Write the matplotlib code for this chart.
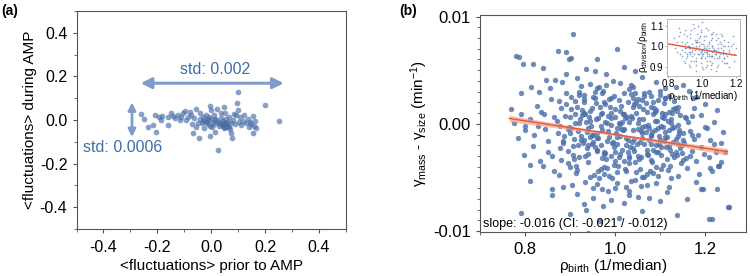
import numpy as np
import matplotlib.pyplot as plt
from matplotlib.ticker import MultipleLocator

plt.rcParams['font.family'] = ['Liberation Sans', 'DejaVu Sans']
plt.rcParams['mathtext.fontset'] = 'custom'
plt.rcParams['mathtext.rm'] = 'Liberation Sans'
plt.rcParams['mathtext.it'] = 'Liberation Sans:italic'

# panel (a): mean fluctuations prior to / during AMP
xa = [-0.259, -0.251, -0.235, -0.216, -0.207, -0.204, -0.194, -0.181, -0.188, -0.162,
      -0.162, -0.148, -0.142, -0.136, -0.123, -0.117, -0.111, -0.105, -0.098, -0.093,
      -0.086, -0.080, -0.074, -0.070, -0.068, -0.062, -0.058, -0.056, -0.046, -0.043,
      -0.040, -0.035, -0.031, -0.027, -0.021, -0.019, -0.016, -0.012, -0.009, -0.006,
      -0.004, 0.000, 0.001, 0.004, 0.006, 0.010, 0.012, 0.016, 0.019, 0.022,
      0.025, 0.027, 0.031, 0.035, 0.037, 0.041, 0.043, 0.046, 0.049, 0.052,
      0.053, 0.056, 0.058, 0.062, 0.065, 0.068, 0.072, 0.075, 0.078, 0.080,
      0.084, 0.088, 0.093, 0.095, 0.099, 0.101, 0.105, 0.107, 0.111, 0.117,
      0.123, 0.130, 0.136, 0.140, 0.144, 0.149, 0.154, 0.157, 0.160, 0.164,
      0.167, 0.201, 0.253, 0.045, 0.050, 0.055, 0.060, 0.040, 0.048, 0.057,
      -0.010, -0.020, -0.005, 0.015, -0.030, -0.050, 0.030, 0.070]
ya = [0.029, 0.006, -0.034, -0.024, 0.021, -0.057, 0.015, 0.018, 0.000, -0.024,
      0.015, 0.031, 0.018, 0.008, 0.023, 0.000, 0.012, 0.031, 0.043, 0.000,
      0.015, 0.038, 0.023, -0.018, -0.061, 0.008, 0.050, -0.031, -0.084, 0.003,
      0.031, -0.015, 0.015, -0.035, 0.000, 0.023, -0.008, -0.018, 0.012, 0.064,
      -0.073, 0.046, 0.003, -0.031, -0.008, 0.023, -0.018, -0.054, 0.000, 0.050,
      -0.138, -0.008, -0.028, 0.008, 0.031, -0.018, -0.003, -0.038, 0.058, -0.015,
      0.034, 0.003, -0.023, -0.008, -0.031, 0.012, -0.012, -0.061, -0.080, 0.000,
      0.028, -0.018, 0.023, 0.080, 0.130, 0.046, -0.008, 0.015, -0.023, -0.003,
      0.023, -0.015, 0.003, -0.031, -0.008, -0.018, 0.018, -0.061, -0.028, -0.003,
      -0.035, 0.067, -0.003, -0.025, -0.030, -0.020, -0.027, -0.022, -0.012, -0.033,
      0.005, -0.010, -0.025, 0.005, -0.005, -0.012, -0.015, -0.040]

# panel (b): growth rate difference vs birth density (y in 1e-3 / min)
xb = [0.903, 0.917, 0.931, 0.948, 0.962, 0.975, 0.989, 1.004, 1.018, 1.031, 1.046, 1.061, 1.074, 1.088, 1.103, 1.117, 1.129, 1.142, 0.895, 0.926,
      0.941, 0.957, 0.969, 0.983, 0.997, 1.011, 1.026, 1.039, 1.053, 1.068, 1.081, 1.095, 1.109, 1.124, 1.137, 1.151, 0.909, 0.935, 0.952, 0.978,
      0.992, 1.007, 1.021, 1.035, 1.049, 1.063, 1.078, 1.091, 1.106, 1.119, 1.133, 1.146, 0.888, 0.914, 0.928, 0.944, 0.959, 0.973, 0.986, 1.002,
      1.016, 1.029, 1.043, 1.057, 1.071, 1.085, 1.099, 1.112, 1.126, 1.140, 1.155, 0.898, 0.921, 0.938, 0.954, 0.966, 0.981, 0.995, 1.009, 1.023,
      1.037, 1.051, 1.065, 1.079, 1.093, 1.107, 1.121, 1.135, 1.148, 0.906, 0.924, 0.943, 0.961, 0.977, 0.993, 1.008, 1.024, 1.041, 1.056, 1.072,
      1.087, 1.102, 1.116, 1.131, 1.145, 0.884, 0.912, 0.933, 0.950, 0.968, 0.984, 1.000, 1.014, 1.033, 1.047, 1.062, 1.076, 1.092, 1.108, 1.123,
      0.870, 0.877, 0.892, 0.900, 0.919, 0.947, 0.964, 0.987, 1.012, 1.036, 1.058, 1.083, 1.104, 1.127, 1.153, 1.162, 1.170, 1.158, 1.167, 1.176,
      0.768, 0.776, 0.785, 0.792, 0.801, 0.810, 0.818, 0.826, 0.834, 0.842, 0.850, 0.858, 0.864, 0.873, 0.880, 0.797, 0.813, 0.829, 0.846, 0.861,
      1.184, 1.190, 1.198, 1.205, 1.212, 1.219, 1.227, 1.235, 1.244, 1.252, 1.181, 1.195, 1.208, 1.221, 1.174, 1.187, 1.200, 1.216, 1.229, 1.165,
      0.781, 0.787, 0.796, 0.818, 0.840, 0.866, 0.873, 0.892, 0.897, 0.902, 0.906, 0.959, 1.004, 0.935, 0.980, 1.020, 1.060, 1.090, 1.120, 1.150,
      0.855, 0.882, 0.915, 0.945, 0.970, 0.995, 1.030, 1.045, 1.075, 1.100, 1.135, 1.180, 0.925, 0.955, 1.010, 1.065, 1.110, 0.830, 0.890, 1.040,
      0.941, 0.967, 0.900, 1.253, 1.208, 1.138, 0.811, 0.792, 1.231, 1.227, 1.190, 1.101, 1.060, 1.008, 0.930, 0.974, 1.019, 0.860, 0.885, 1.160,
      0.915, 0.950, 0.985, 1.030, 1.070, 1.120, 0.875, 0.840, 0.960, 1.000, 1.045, 1.090, 1.140, 0.905, 0.990, 1.050, 1.115, 0.935, 1.025, 1.075,
      0.900, 0.915, 0.930, 0.945, 0.960, 0.975, 0.990, 1.005, 1.020, 1.035, 1.050, 1.065, 1.080, 1.095, 1.110, 1.125, 1.140, 0.908, 0.938, 0.968,
      0.998, 1.028, 1.058, 1.088, 1.118, 1.148, 0.922, 0.952, 0.982, 1.012, 1.042, 1.072, 1.102, 1.132, 0.886, 0.896, 1.160, 1.170, 0.955, 1.045,
      0.930, 0.960, 0.990, 1.020, 1.050, 1.080, 1.110, 1.140, 0.910, 0.940, 0.970, 1.000, 1.030, 1.060, 1.090, 1.120, 0.880, 1.150, 0.975, 1.085,
      0.885, 0.899, 0.913, 0.927, 0.941, 0.955, 0.969, 0.983, 0.997, 1.011, 1.025, 1.039, 1.053, 1.067, 1.081, 1.095, 1.109, 1.123, 1.137, 1.151,
      0.892, 0.906, 0.920, 0.934, 0.948, 0.962, 0.976, 0.990, 1.004, 1.018, 1.032, 1.046, 1.060, 1.074, 1.088, 1.102, 1.116, 1.130, 1.144, 1.158,
      0.902, 0.916, 0.930, 0.944, 0.958, 0.972, 0.986, 1.000, 1.014, 1.028, 1.042, 1.056, 1.070, 1.084, 1.098, 1.112, 1.126, 1.140, 0.878, 1.166,
      0.910, 0.925, 0.940, 0.955, 0.970, 0.985, 1.000, 1.015, 1.030, 1.045, 1.060, 1.075, 1.090, 1.105, 1.120, 1.135, 0.895, 0.965, 1.025, 1.085,
      0.918, 0.933, 0.948, 0.963, 0.978, 0.993, 1.008, 1.023, 1.038, 1.053, 1.068, 1.083, 1.098, 1.113, 1.128, 1.143, 0.903, 0.950, 1.005, 1.060,
      0.800, 0.820, 0.835, 0.850, 0.865, 0.875, 0.790, 0.810, 0.845, 0.860, 1.170, 1.190, 1.210, 1.225, 1.240, 1.180, 1.200, 1.215, 1.235, 1.175,
      0.930, 0.960, 0.990, 1.020, 1.050, 1.080, 1.110, 0.945, 0.975, 1.005, 1.035, 1.065, 1.095, 1.125, 0.920, 0.980, 1.040, 1.100, 0.970, 1.030]
yb = [1.4, -0.7, 2.3, -1.9, 0.5, -2.8, 1.6, -0.4, 0.9, -3.2, 2.0, -1.3, -0.1, 1.1, -2.2, 0.3, -1.7, -0.6, -2.5, 0.8,
      -3.6, 1.9, -0.2, -4.1, 2.6, -1.1, 0.6, -2.3, 1.7, -0.8, -3.4, 2.2, -1.6, 0.1, -2.9, -0.9, -1.4, 0.2, -1.0, -2.7,
      1.0, -3.9, -0.5, 2.8, -1.9, 0.4, -4.4, 1.3, -0.3, -2.1, 1.5, -3.7, 0.7, -4.6, -1.8, 1.2, -2.5, 3.1, -1.2, -0.9,
      0.2, -2.6, 1.8, -0.7, -2.4, 0.9, -1.5, 2.4, -0.4, -1.9, 0.6, -0.3, 2.7, -0.8, -4.8, 1.6, -3.3, -1.7, 2.2, -4.2,
      0.5, -3.0, 2.9, -1.1, 0.3, -3.8, 1.1, -1.4, -2.7, -2.9, -1.5, 0.6, -0.9, 1.8, -5.1, 0.1, -1.3, -0.6, -1.7, -2.8,
      1.5, -0.2, -3.3, 2.1, 0.8, -1.6, 0.9, -5.4, 2.5, -2.0, 0.7, -3.5, 1.7, -2.2, -4.5, 1.4, -0.4, -2.0, 1.9, -2.4,
      0.3, -2.3, 2.9, -4.0, -3.1, -0.2, 3.4, -4.9, -2.8, 3.6, -5.8, -3.6, 0.6, 1.0, -1.8, 0.2, -2.5, -3.2, -0.7, -1.4,
      1.4, 0.1, -1.3, 2.9, -0.6, 0.4, -2.1, 1.7, -3.5, 0.9, -1.6, 2.3, -4.4, -0.9, 1.5, -2.9, 3.4, -0.2, 4.1, -6.1,
      -1.0, 0.8, -2.8, -0.4, -4.1, -1.9, 1.3, -3.6, -2.6, -7.8, -5.4, -6.1, -3.1, 0.2, 2.4, -4.7, 1.8, -8.9, -3.9, 3.1,
      6.3, 6.2, 5.6, 5.6, 5.2, 4.1, 6.8, 6.7, 6.0, 6.1, 8.4, 6.0, 7.0, 5.1, 4.6, 5.3, 4.4, 3.9, 4.8, 3.6,
      3.3, 3.9, 4.3, 3.7, 2.9, 4.0, 3.2, 4.9, 3.0, 2.7, 3.4, 2.5, 3.5, 4.9, 3.8, 2.6, 3.3, 3.0, 4.6, 2.4,
      -10.2, -9.1, -8.4, -7.8, -8.9, -8.5, -5.3, -8.3, -3.9, -6.1, -6.1, -7.2, -8.1, -8.8, -7.5, -7.7, -7.4, -6.6, -5.9, -7.0,
      -6.5, -6.9, -6.3, -6.6, -5.7, -5.9, -4.8, -3.9, -5.6, -6.0, -5.2, -5.5, -4.9, -5.7, -7.1, -6.8, -6.4, -8.0, -5.9, -6.9,
      -0.9, 1.6, -1.5, 0.3, -2.4, 2.0, -0.1, -1.2, -3.5, 0.7, -0.5, -1.9, 2.6, -2.6, -0.8, 0.4, -1.1, -3.3, -2.3, -4.2,
      -2.2, -1.5, -3.1, -0.6, -4.3, -2.0, 0.4, -1.7, 0.1, 1.2, -2.5, -4.7, -2.9, -3.1, -1.1, -0.5, -4.1, 0.7, 3.0, 2.9,
      1.0, -1.3, -3.0, 0.9, 0.1, -1.0, -1.2, 1.6, 2.1, -2.0, 1.0, 0.6, -3.7, -0.9, -4.0, 2.6, -3.4, -1.5, -2.6, 2.0,
      -1.8, 0.6, -3.9, 1.3, -0.4, -2.2, 0.9, -1.6, -3.8, 0.0, -2.0, 1.6, -3.3, -0.2, -1.9, -0.4, 0.5, -3.9, 1.2, -3.4,
      1.8, -2.1, 0.1, -3.0, 1.5, -1.3, -4.0, 0.5, -1.9, -0.6, -3.0, 1.0, -0.3, -2.9, 0.3, -4.2, -1.2, -0.3, -2.3, 0.5,
      -0.4, -4.3, 2.0, -1.2, 0.4, -0.6, 2.3, -2.6, -0.5, 2.0, -1.4, -4.2, 1.1, -2.4, -1.1, 0.9, -2.8, -0.1, -0.2, -3.0,
      0.1, -1.1, -2.8, 2.4, -3.2, -0.7, 1.4, -2.4, 0.2, -3.6, 2.2, -1.5, -2.6, 1.0, -0.6, -2.6, -3.7, -5.1, -4.4, -4.6,
      -2.0, 0.9, -1.0, -4.4, 0.2, -1.8, -3.1, 0.5, -1.7, 0.4, 1.9, -0.8, -1.9, -2.2, 1.4, -0.9, 2.5, -6.0, -5.5, -5.0,
      -0.2, -1.0, 1.1, -2.6, 0.6, 2.1, 0.9, -3.8, -0.5, -3.0, -1.0, -2.2, -1.5, -2.6, -0.8, -3.5, -0.3, -4.4, -1.8, 1.5,
      2.7, 3.3, 2.4, 2.9, 2.3, 1.6, 2.4, -5.0, -4.7, -4.5, -5.3, -5.0, -4.9, -5.1, 3.0, 3.6, 3.4, 3.1, -6.1, -6.3]

# linear fit and confidence band (1e-3 / min)
fit_x = [0.765, 1.0, 1.25]
fit_y = [0.5, -1.0, -2.6]
fit_lo = [0.2, -1.1, -2.9]
fit_hi = [0.8, -0.9, -2.3]

# inset: division / birth density ratio
ins_x = [0.83, 0.85, 0.87, 0.89, 0.91, 0.93, 0.95, 0.97, 0.99, 1.01, 1.03, 1.05, 1.07, 1.09, 1.11,
         1.13, 1.15, 1.17, 1.19, 0.84, 0.86, 0.88, 0.90, 0.92, 0.94, 0.96, 0.98, 1.00, 1.02, 1.04,
         1.06, 1.08, 1.10, 1.12, 1.14, 1.16, 1.18, 0.88, 0.905, 0.925, 0.945, 0.965, 0.985, 1.005, 1.025,
         1.045, 1.065, 1.085, 1.105, 1.125, 1.145, 0.895, 0.915, 0.935, 0.955, 0.975, 0.995, 1.015, 1.035, 1.055,
         1.075, 1.095, 1.115, 1.135, 0.91, 0.94, 0.97, 1.00, 1.03, 1.06, 1.09, 1.12, 0.92, 0.95, 0.98,
         1.01, 1.04, 1.07, 1.10, 0.93, 0.96, 0.99, 1.02, 1.05, 1.08, 0.90, 1.13, 1.16, 0.82, 1.20,
         0.945, 0.975, 1.005, 1.035, 1.065, 0.96, 0.99, 1.02, 1.05, 0.93, 1.00, 1.08, 0.86, 1.11, 1.18,
         0.95, 0.98, 1.01, 1.04, 0.97, 1.00, 1.03, 0.94, 1.06, 0.91, 0.99, 1.02, 1.09, 0.96, 1.05,
         0.88, 0.90, 0.92, 0.94, 0.96, 0.98, 1.00, 1.02, 1.04, 1.06, 1.08, 1.10, 1.12, 1.14, 1.16,
         0.89, 0.91, 0.93, 0.95, 0.97, 0.99, 1.01, 1.03, 1.05, 1.07, 1.09, 1.11, 1.13, 1.15, 1.17,
         0.87, 0.90, 0.935, 0.965, 0.995, 1.025, 1.055, 1.085, 1.115, 1.145, 0.92, 1.00, 1.08, 0.85, 1.19,
         0.905, 0.955, 1.005, 1.055, 1.105, 0.93, 0.98, 1.03, 1.08, 1.13, 0.96, 1.01, 1.06, 0.99, 1.04]
ins_y = [1.04, 0.97, 1.07, 0.93, 1.02, 0.96, 1.09, 0.99, 0.92, 1.03, 0.95, 1.06, 0.98, 0.91, 1.01,
         0.94, 1.00, 0.96, 0.93, 0.99, 1.05, 0.95, 1.08, 0.97, 1.01, 0.94, 1.04, 0.98, 0.90, 1.02,
         0.95, 1.03, 0.97, 1.00, 0.92, 0.98, 1.01, 1.02, 0.94, 1.06, 0.99, 0.93, 1.05, 0.96, 1.00,
         0.93, 0.99, 0.94, 1.02, 0.97, 0.95, 0.97, 1.00, 0.93, 1.03, 0.96, 1.01, 0.94, 0.98, 1.04,
         0.96, 0.99, 0.93, 1.00, 1.05, 0.98, 1.02, 0.95, 0.97, 0.92, 1.01, 0.96, 0.99, 0.96, 0.98,
         1.00, 0.96, 0.98, 0.95, 0.97, 1.00, 0.97, 0.99, 0.95, 0.98, 0.99, 1.03, 0.90, 1.01, 0.99,
         1.11, 1.10, 0.89, 1.08, 1.07, 0.88, 1.07, 1.09, 0.89, 0.90, 1.12, 0.88, 1.09, 1.06, 1.05,
         0.99, 0.96, 0.97, 1.01, 1.03, 0.98, 0.96, 0.95, 1.00, 0.96, 0.94, 1.05, 0.97, 1.02, 0.91,
         0.98, 1.01, 1.00, 0.97, 0.99, 1.02, 0.96, 0.97, 0.99, 0.95, 0.97, 0.94, 0.98, 0.96, 0.97,
         1.06, 0.95, 1.04, 0.93, 1.06, 0.94, 1.05, 0.93, 1.03, 0.94, 1.04, 0.99, 0.92, 1.02, 1.00,
         0.96, 0.92, 1.08, 0.91, 1.08, 0.91, 1.06, 0.90, 1.05, 0.92, 0.91, 0.90, 1.06, 1.02, 0.96,
         0.99, 0.98, 1.01, 0.97, 0.96, 0.99, 1.00, 0.98, 0.96, 0.94, 1.02, 0.99, 1.00, 0.97, 0.95]
ins_fit_x = [0.8, 1.2]
ins_fit_y = [1.011, 0.955]

dot = '#4a6ea8'
txt_blue = '#3d6fa8'
arrow_c = '#7f9ccb'
red = '#e8553a'

fig = plt.figure(figsize=(7.5, 2.76), dpi=100)

# ---- (a)
ax = fig.add_axes([0.102, 0.170, 0.359, 0.790])
ax.scatter(xa, ya, s=17, color=dot, alpha=0.65, linewidths=0)
ax.set_xlim(-0.5, 0.5)
ax.set_ylim(-0.5, 0.5)
ax.xaxis.set_minor_locator(MultipleLocator(0.1))
ax.yaxis.set_minor_locator(MultipleLocator(0.1))
ax.set_xticks([-0.4, -0.2, 0.0, 0.2, 0.4])
ax.set_yticks([-0.4, -0.2, 0.0, 0.2, 0.4])
ax.set_xticklabels(['-0.4', '-0.2', '0.0', '0.2', '0.4'])
ax.set_yticklabels(['-0.4', '-0.2', '0.0', '0.2', '0.4'])
ax.tick_params(labelsize=11.5, length=3, width=0.8, color='#555555')
ax.tick_params(axis='x', pad=5)
ax.tick_params(which='minor', length=2, width=0.6, color='#555555')
for s in ax.spines.values():
    s.set_color('#555555')
    s.set_linewidth(0.8)
ax.set_xlabel('<fluctuations> prior to AMP', fontsize=11, labelpad=3)
ax.set_ylabel('<fluctuations> during AMP', fontsize=11, labelpad=2)
ax.annotate('', xy=(-0.272, 0.169), xytext=(0.28, 0.169),
            arrowprops=dict(arrowstyle='<|-|>', color=arrow_c, lw=2.2, mutation_scale=16))
ax.annotate('', xy=(-0.294, 0.094), xytext=(-0.294, -0.091),
            arrowprops=dict(arrowstyle='<|-|>', color=arrow_c, lw=2, mutation_scale=11))
ax.text(0.016, 0.23, 'std: 0.002', color=txt_blue, fontsize=11.5, ha='center', va='center')
ax.text(-0.475, -0.128, 'std: 0.0006', color=txt_blue, fontsize=11.5, ha='left', va='center')
fig.text(0.002, 0.985, '(a)', fontsize=10, fontweight='bold', va='top')

# ---- (b)
bx = fig.add_axes([0.640, 0.159, 0.354, 0.785])
bx.scatter(xb, np.array(yb) * 1e-3, s=15, color=dot, alpha=0.8, linewidths=0)
bx.fill_between(fit_x, np.array(fit_lo) * 1e-3, np.array(fit_hi) * 1e-3,
                color='#f4a582', alpha=0.7, linewidth=0)
bx.plot(fit_x, np.array(fit_y) * 1e-3, color=red, lw=1)
bx.set_xlim(0.7, 1.29)
bx.set_ylim(-0.0101, 0.0101)
bx.set_xticks([0.8, 1.0, 1.2])
bx.set_xticklabels(['0.8', '1.0', '1.2'])
bx.xaxis.set_minor_locator(MultipleLocator(0.1))
bx.set_yticks([-0.01, 0.0, 0.01])
bx.set_yticklabels(['-0.01', '0.00', '0.01'])
bx.yaxis.set_minor_locator(MultipleLocator(0.001))
bx.tick_params(labelsize=12, length=3, width=0.8, color='#555555')
bx.tick_params(axis='x', pad=4)
bx.tick_params(which='minor', length=2, width=0.6, color='#555555')
for s in bx.spines.values():
    s.set_color('#555555')
    s.set_linewidth(0.8)
bx.set_xlabel('ρ$_{\\rm birth}$ (1/median)', fontsize=11, labelpad=0)
bx.set_ylabel('γ$_{\\rm mass}$ - γ$_{\\rm size}$ (min$^{-1}$)', fontsize=11, labelpad=2)
bx.text(0.012, 0.012, 'slope: -0.016 (CI: -0.021 / -0.012)', transform=bx.transAxes,
        fontsize=9, ha='left', va='bottom')
fig.text(0.532, 0.985, '(b)', fontsize=10, fontweight='bold', va='top')

# inset
ix = fig.add_axes([0.889, 0.725, 0.097, 0.207])
ix.scatter(ins_x, ins_y, s=1.5, color=dot, alpha=0.6, linewidths=0)
ix.plot(ins_fit_x, ins_fit_y, color=red, lw=1)
ix.set_xlim(0.79, 1.22)
ix.set_ylim(0.855, 1.134)
ix.set_xticks([0.8, 1.0, 1.2])
ix.set_xticklabels(['0.8', '1.0', '1.2'])
ix.set_yticks([0.9, 1.0, 1.1])
ix.set_yticklabels(['0.9', '1.0', '1.1'])
ix.tick_params(labelsize=7, length=1.5, width=0.5, pad=1, color='#999999')
for s in ix.spines.values():
    s.set_color('#aaaaaa')
    s.set_linewidth(0.6)
ix.set_xlabel('ρ$_{\\rm birth}$ (1/median)', fontsize=7, labelpad=0)
ix.set_ylabel('ρ$_{\\rm division}$/ρ$_{\\rm birth}$', fontsize=7, labelpad=0)

fig.savefig('out.png', dpi=100)
